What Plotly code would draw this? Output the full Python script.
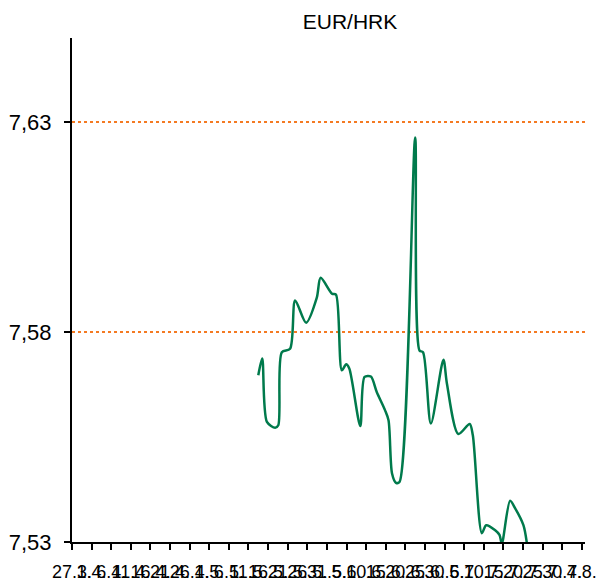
import plotly.graph_objects as go

# x tick labels (every 5 days starting 27.3.)
tick_labels = ["27.3.", "1.4.", "6.4.", "11.4.", "16.4.", "21.4.", "26.4.", "1.5.", "6.5.",
               "11.5.", "16.5.", "21.5.", "26.5.", "31.5.", "5.6.", "10.6.", "15.6.", "20.6.",
               "25.6.", "30.6.", "5.7.", "10.7.", "15.7.", "20.7.", "25.7.", "30.7.", "4.8."]
tick_days = [i * 5 for i in range(len(tick_labels))]

# data: day offset from 27.3. and EUR/HRK rate
days = [47.5, 48.5, 49.7, 51.8, 52.6, 53.5, 55.6, 56.9, 59.7, 62.4, 63.4, 66.3, 67.3,
        68.8, 69.9, 70.7, 73.5, 74.6, 76.2, 77.7, 79.8, 80.7, 81.6, 82.6, 83.5, 87.5,
        88.6, 89.5, 91.5, 94.7, 95.6, 98.5, 101.4, 102.2, 104.5, 105.6, 107.9, 109.0,
        109.6, 111.7, 113.0, 115.1, 116.0]
rates = [7.5697, 7.5737, 7.5586, 7.5572, 7.5578, 7.5752, 7.5760, 7.5875, 7.5822, 7.5881,
         7.5929, 7.5891, 7.5889, 7.5709, 7.5723, 7.5713, 7.5576, 7.5693, 7.5694, 7.5657,
         7.5614, 7.5590, 7.5463, 7.5441, 7.5443, 7.6263, 7.5756, 7.5752, 7.5582, 7.5734,
         7.5677, 7.5557, 7.5581, 7.5554, 7.5321, 7.5340, 7.5328, 7.5317, 7.5296, 7.5398,
         7.5380, 7.5340, 7.5296]

y_ticks = [7.53, 7.58, 7.63]
y_labels = ["7,53", "7,58", "7,63"]

W, H = 596, 575  # page body has an 8px margin

fig = go.Figure()
fig.add_trace(go.Scatter(
    x=days, y=rates, mode="lines",
    line=dict(color="#007A4C", width=2.5, shape="spline", smoothing=0.8),
    hoverinfo="skip", showlegend=False,
))

fig.update_layout(
    width=W, height=H,
    margin=dict(l=64, r=19, t=30, b=41),
    paper_bgcolor="white", plot_bgcolor="white",
    font=dict(family="Liberation Sans, Arial, sans-serif", color="black"),
    title=dict(text="EUR/HRK", x=(350 - 8) / W, xanchor="center", y=1 - (22 - 8) / H,
               yanchor="middle", font=dict(size=21, color="black")),
    showlegend=False,
)

fig.update_xaxes(
    range=[0, 130.8], tickmode="array", tickvals=tick_days, ticktext=tick_labels,
    tickangle=0, ticks="outside", ticklen=6, tickwidth=1.5, tickcolor="black",
    showline=True, linecolor="black", linewidth=2, showgrid=False, zeroline=False,
    tickfont=dict(size=18, color="black"), ticklabelstandoff=6, automargin=False,
)
fig.update_yaxes(
    range=[7.53, 7.65], tickmode="array", tickvals=y_ticks, ticktext=y_labels,
    ticks="outside", ticklen=6, tickwidth=1.5, tickcolor="black",
    showline=True, linecolor="black", linewidth=2,
    showgrid=True, gridcolor="#F47A22", gridwidth=1.5, griddash="dot", zeroline=False,
    tickfont=dict(size=22, color="black"), ticklabelstandoff=8, automargin=False,
)

fig.write_html("out.html")
